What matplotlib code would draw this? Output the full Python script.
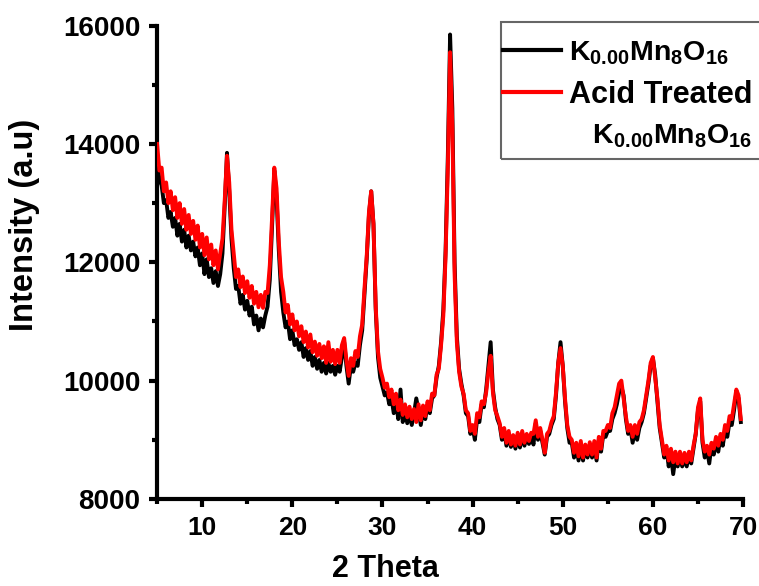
import numpy as np
import matplotlib
matplotlib.use("Agg")
import matplotlib.pyplot as plt
from matplotlib.lines import Line2D
from matplotlib.patches import Rectangle
from matplotlib.ticker import MultipleLocator

plt.rcParams['font.family'] = ['Liberation Sans', 'DejaVu Sans']
plt.rcParams['font.weight'] = 'bold'
plt.rcParams['mathtext.fontset'] = 'custom'
plt.rcParams['mathtext.rm'] = 'Liberation Sans:bold'
plt.rcParams['mathtext.bf'] = 'Liberation Sans:bold'
plt.rcParams['mathtext.it'] = 'Liberation Sans:bold'
plt.rcParams['mathtext.default'] = 'bf'

# ---- data (2-theta sampled every 0.25 deg starting at 5.0) ----
theta_start = 5.0
theta_step = 0.25

intensity_acid = [
    14000, 13550, 13600, 13200, 13350, 13000, 13200, 12880,   # 5.0
    13100, 12750, 13000, 12650, 12900, 12550, 12800, 12480,   # 7.0
    12700, 12380, 12620, 12250, 12480, 12120, 12420, 12050,   # 9.0
    12300, 11950, 12200, 11880, 12150, 12400, 13050, 13800,   # 11.0
    13350, 12550, 12150, 11750, 11880, 11580, 11760, 11480,   # 13.0
    11680, 11400, 11600, 11300, 11500, 11240, 11450, 11230,   # 15.0
    11500, 11480, 11950, 12750, 13600, 13250, 12350, 11750,   # 17.0
    11500, 11150, 11280, 10950, 11120, 10850, 11000, 10750,   # 19.0
    10920, 10650, 10830, 10560, 10780, 10480, 10660, 10420,   # 21.0
    10620, 10380, 10580, 10300, 10650, 10320, 10520, 10280,   # 23.0
    10520, 10300, 10600, 10720, 10350, 10080, 10380, 10250,   # 25.0
    10500, 10400, 10750, 10950, 11550, 12100, 12850, 13200,   # 27.0
    12650, 11250, 10500, 10200, 10050, 9880, 9950, 9720,      # 29.0
    9850, 9600, 9780, 9500, 9680, 9420, 9600, 9380,           # 31.0
    9560, 9350, 9520, 9300, 9600, 9330, 9580, 9400,           # 33.0
    9650, 9500, 9780, 9750, 10100, 10200, 10600, 11100,       # 35.0
    12100, 13600, 15550, 14300, 11800, 10650, 10150, 9900,    # 37.0
    9780, 9500, 9450, 9150, 9250, 9100, 9450, 9380,           # 39.0
    9650, 9600, 9800, 10150, 10420, 9800, 9500, 9400,         # 41.0
    9280, 9050, 9200, 8950, 9150, 8920, 9080, 8900,           # 43.0
    9120, 8920, 9150, 8950, 9100, 8980, 9120, 9100,           # 45.0
    9330, 9050, 9200, 9000, 8780, 9100, 9150, 9300,           # 47.0
    9400, 9800, 10300, 10550, 10250, 9700, 9250, 9050,        # 49.0
    9000, 8780, 8950, 8720, 8980, 8700, 8920, 8750,           # 51.0
    8960, 8750, 8980, 8700, 9050, 8850, 9150, 9150,           # 53.0
    9250, 9200, 9450, 9550, 9750, 9950, 10000, 9700,          # 55.0
    9400, 9150, 9250, 9050, 9250, 9100, 9300, 9350,           # 57.0
    9500, 9750, 10000, 10300, 10400, 10050, 9700, 9250,       # 59.0
    9000, 8750, 8900, 8650, 8850, 8620, 8800, 8600,           # 61.0
    8800, 8600, 8780, 8620, 8800, 8650, 8900, 9100,           # 63.0
    9550, 9700, 9000, 8800, 8900, 8750, 8950, 8850,           # 65.0
    9050, 8900, 9100, 9000, 9250, 9150, 9400, 9350,           # 67.0
    9600, 9850, 9750, 9350,                                   # 69.0
]

intensity_pristine = [
    13750, 13400, 13300, 13000, 13050, 12750, 12850, 12600,   # 5.0
    12750, 12450, 12650, 12350, 12550, 12250, 12450, 12200,   # 7.0
    12350, 12100, 12250, 11950, 12150, 11800, 12050, 11750,   # 9.0
    11900, 11650, 11850, 11600, 11800, 12150, 12950, 13850,   # 11.0
    13200, 12400, 11900, 11550, 11600, 11300, 11450, 11200,   # 13.0
    11350, 11100, 11250, 10950, 11100, 10850, 11050, 10900,   # 15.0
    11100, 11250, 11700, 12600, 13550, 13100, 12200, 11500,   # 17.0
    11150, 10900, 11000, 10700, 10850, 10600, 10700, 10520,   # 19.0
    10650, 10400, 10550, 10350, 10500, 10250, 10400, 10200,   # 21.0
    10350, 10150, 10300, 10120, 10300, 10150, 10250, 10100,   # 23.0
    10250, 10150, 10400, 10650, 10250, 9950, 10250, 10150,    # 25.0
    10300, 10250, 10600, 10850, 11450, 12050, 12800, 13200,   # 27.0
    12650, 11200, 10400, 10050, 9900, 9750, 9800, 9600,       # 29.0
    9700, 9450, 9650, 9350, 9850, 9300, 9500, 9280,           # 31.0
    9450, 9250, 9450, 9700, 9500, 9250, 9500, 9350,           # 33.0
    9600, 9450, 9700, 9750, 10050, 10250, 10650, 11200,       # 35.0
    12200, 13800, 15850, 14600, 12000, 10750, 10200, 9950,    # 37.0
    9750, 9450, 9400, 9100, 9200, 9000, 9350, 9300,           # 39.0
    9600, 9550, 9850, 10250, 10650, 9850, 9550, 9350,         # 41.0
    9250, 9000, 9150, 8900, 9100, 8880, 9050, 8850,           # 43.0
    9080, 8870, 9100, 8900, 9060, 8930, 9080, 8920,           # 45.0
    9280, 9000, 9150, 8950, 8750, 9050, 9100, 9250,           # 47.0
    9350, 9750, 10300, 10650, 10250, 9650, 9200, 8950,        # 49.0
    8950, 8700, 8900, 8650, 8920, 8650, 8880, 8700,           # 51.0
    8900, 8700, 8920, 8650, 9000, 8800, 9100, 9050,           # 53.0
    9150, 9150, 9350, 9450, 9600, 9800, 9900, 9750,           # 55.0
    9350, 9100, 9200, 8950, 9150, 9000, 9200, 9300,           # 57.0
    9450, 9700, 9950, 10250, 10380, 10100, 9650, 9200,        # 59.0
    8950, 8700, 8850, 8550, 8750, 8420, 8700, 8550,           # 61.0
    8750, 8550, 8700, 8550, 8750, 8600, 8850, 9100,           # 63.0
    9500, 9650, 8950, 8700, 8850, 8600, 8900, 8750,           # 65.0
    9000, 8800, 9050, 8900, 9150, 9050, 9300, 9250,           # 67.0
    9500, 9800, 9700, 9300,                                   # 69.0
]

x_ticks = [10, 20, 30, 40, 50, 60, 70]
y_ticks = [8000, 10000, 12000, 14000, 16000]

label_pristine = r'K$_{0.00}$Mn$_{8}$O$_{16}$'
label_acid_1 = 'Acid Treated'
label_acid_2 = r'   K$_{0.00}$Mn$_{8}$O$_{16}$'

two_theta_p = theta_start + theta_step * np.arange(len(intensity_pristine))
two_theta_a = theta_start + theta_step * np.arange(len(intensity_acid))

W, H = 759, 586
fig = plt.figure(figsize=(W / 100, H / 100), dpi=100)
ax = fig.add_axes([0.207, 0.1485, 0.772, 0.8078])

l1, = ax.plot(two_theta_p, intensity_pristine, color='black', lw=2.8, zorder=2)
l2, = ax.plot(two_theta_a, intensity_acid, color='#ff0000', lw=2.8, zorder=3)

ax.set_xlim(5, 70)
ax.set_ylim(8000, 16000)
ax.set_xticks(x_ticks)
ax.set_yticks(y_ticks)
ax.xaxis.set_minor_locator(MultipleLocator(5))
ax.yaxis.set_minor_locator(MultipleLocator(1000))

for s in ['top', 'right']:
    ax.spines[s].set_visible(False)
for s in ['left', 'bottom']:
    ax.spines[s].set_linewidth(3.0)

ax.tick_params(which='major', direction='out', length=6, width=3, pad=6)
ax.tick_params(which='minor', direction='out', length=3.5, width=3)
ax.tick_params(axis='x', labelsize=19)
ax.tick_params(axis='y', labelsize=20)
for lab in ax.get_xticklabels() + ax.get_yticklabels():
    lab.set_fontweight('bold')

ax.set_xlabel('2 Theta', fontsize=22, fontweight='bold')
ax.set_ylabel('Intensity (a.u)', fontsize=23.5, fontweight='bold')
ax.xaxis.set_label_coords(0.39, -0.117)
ax.yaxis.set_label_coords(-0.200, 0.58)

# legend (frame drawn separately so it can run past the right edge)
blank = Line2D([], [], color='none')
leg = fig.legend([l1, l2, blank], [label_pristine, label_acid_1, label_acid_2],
                 loc='upper left', bbox_to_anchor=(500 / W, 1 - 36 / H),
                 prop={'size': 22, 'weight': 'bold'},
                 frameon=False, handlelength=1.9,
                 handletextpad=0.25, borderpad=0.1, labelspacing=0.42,
                 borderaxespad=0)
texts = leg.get_texts()
texts[0].set_fontsize(20.5)
texts[2].set_fontsize(20.5)
for h in leg.get_lines():
    h.set_linewidth(3)

fig.add_artist(Rectangle((501 / W, 1 - 159 / H), 280 / W, 137 / H,
                         transform=fig.transFigure, fill=False,
                         edgecolor='#666666', linewidth=1.5))

fig.savefig('out.png', dpi=100)
